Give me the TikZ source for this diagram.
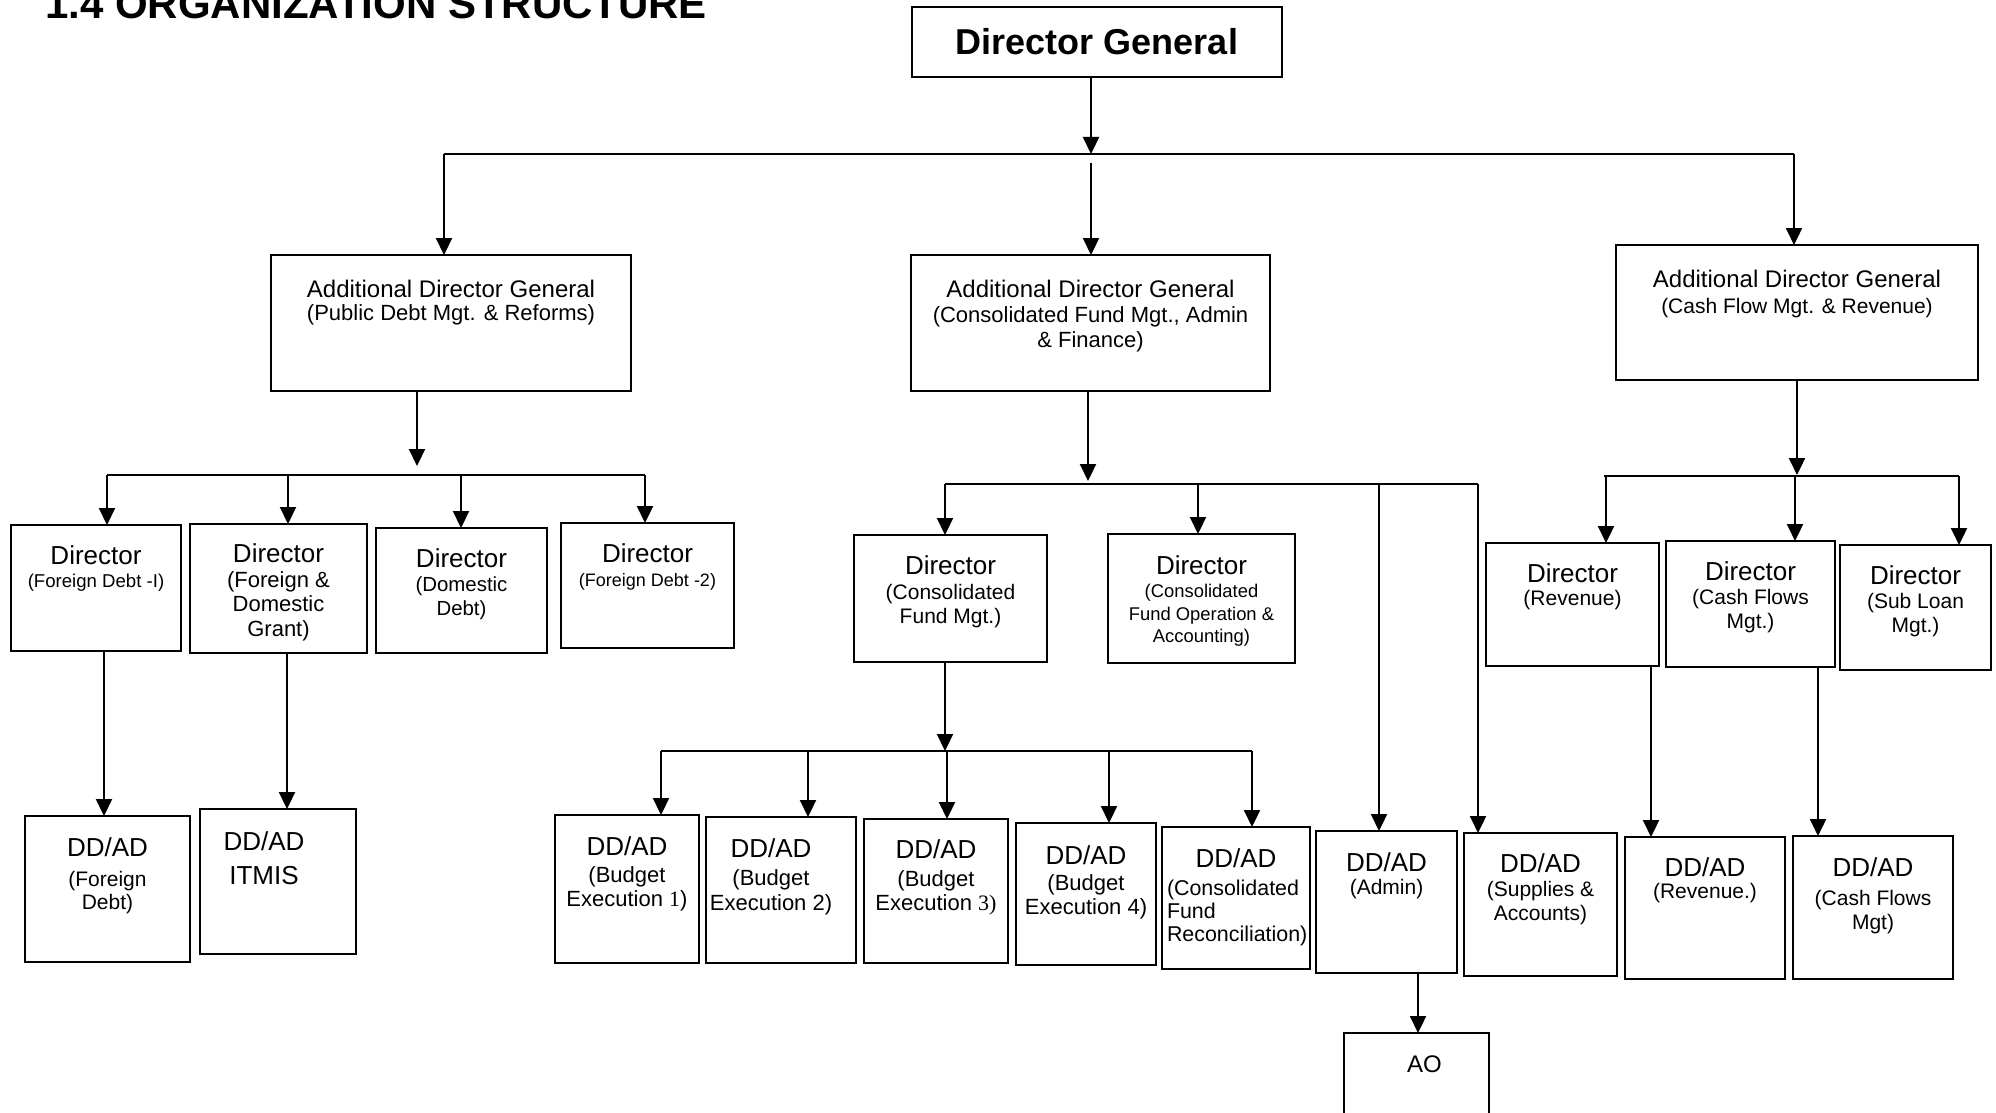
\documentclass[tikz,border=0pt]{standalone}
\usepackage{fontspec}
\setmainfont{Liberation Sans}
\newfontfamily\serifnum{Liberation Serif}
\usetikzlibrary{arrows.meta}

\newlength\pxu
\setlength\pxu{0.5pt}
\newcommand\fs[2]{\fontsize{#1}{#2}\selectfont}
% box contents: [rightskip]{width}{height}{top pad}{text}, all in px
\newcommand\cell[5][0]{\parbox[c][#3\pxu][t]{#2\pxu}{\centering\rightskip=#1\pxu plus 1fil\relax\vspace*{#4\pxu}#5}}
\newcommand\hd[2][0]{\fs{13}{15}#2\par\vspace{#1pt}}

\begin{document}
\begin{tikzpicture}[x=0.5pt, y=-0.5pt, line width=1.1pt,
  orgbox/.style={draw, line width=1pt, inner sep=0pt, outer sep=0pt},
  arr/.style={-{Triangle[width=8pt,length=8.5pt]}}]
\useasboundingbox (0,0) rectangle (1996,1113);

\node[anchor=base west, inner sep=0pt, font={\fs{21}{25}\bfseries}] (title) at (44,19) {1.4 ORGANIZATION STRUCTURE};

% top level
\node[orgbox] (dg) at (1097,42) {\cell{370}{70}{21}{\fs{18}{21}\bfseries Director General}};

% additional director generals
\node[orgbox] (adgA) at (451,323) {\cell{360}{136}{25}{\fs{12}{14}Additional Director General\par\fs{11}{11.5}(Public Debt Mgt. \& Reforms)}};
\node[orgbox] (adgB) at (1090.5,323) {\cell{359}{136}{25}{\fs{12}{14}Additional Director General\par\fs{11}{12.5}(Consolidated Fund Mgt., Admin\\ \& Finance)}};
\node[orgbox] (adgC) at (1797,312.5) {\cell{362}{135}{25}{\fs{12}{14}Additional Director General\par\fs{10.5}{13}(Cash Flow Mgt. \& Revenue)}};

% directors
\node[orgbox] (dFDa) at (96,588) {\cell{170}{126}{21}{\hd{Director}\fs{9.3}{11.5}(Foreign Debt -I)}};
\node[orgbox] (dFDG) at (278.5,588.5) {\cell{177}{129}{20}{\hd{Director}\fs{11}{12.2}(Foreign \&\\Domestic\\Grant)}};
\node[orgbox] (dDD) at (461.5,590.5) {\cell{171}{125}{21}{\hd{Director}\fs{10.2}{12}(Domestic\\Debt)}};
\node[orgbox] (dFDb) at (647.5,585.5) {\cell{173}{125}{21}{\hd{Director}\fs{9}{12}(Foreign Debt -2)}};
\node[orgbox] (dCFM) at (950.5,598.5) {\cell{193}{127}{21}{\hd{Director}\fs{10.5}{12.2}(Consolidated\\Fund Mgt.)}};
\node[orgbox] (dCFO) at (1201.5,598.5) {\cell{187}{129}{22}{\hd{Director}\fs{9.2}{11.3}(Consolidated\\Fund Operation \&\\Accounting)}};
\node[orgbox] (dRev) at (1572.5,604.5) {\cell{173}{123}{21}{\hd{Director}\fs{10.5}{11.5}(Revenue)}};
\node[orgbox] (dCF) at (1750.5,604) {\cell{169}{126}{21}{\hd{Director}\fs{10.5}{12}(Cash Flows\\Mgt.)}};
\node[orgbox] (dSL) at (1915.5,607.5) {\cell{151}{125}{21}{\hd{Director}\fs{10.5}{12}(Sub Loan\\Mgt.)}};

% deputy / assistant directors
\node[orgbox] (ddFD) at (107.5,889) {\cell{165}{146}{22}{\hd[3.5]{DD/AD}\fs{10.5}{11.5}(Foreign\\Debt)}};
\node[orgbox] (ddIT) at (278,881.5) {\cell[28]{156}{145}{23}{\hd{DD/AD}\fs{13}{17}ITMIS}};
\node[orgbox] (ddBEa) at (627,889) {\cell{144}{148}{22}{\hd[1.5]{DD/AD}\fs{11}{12}(Budget\\Execution {\serifnum 1})}};
\node[orgbox] (ddBEb) at (781,890) {\cell[20]{150}{146}{22}{\hd[1.5]{DD/AD}\fs{11}{12.3}(Budget\\Execution 2)}};
\node[orgbox] (ddBEc) at (936,891) {\cell{144}{144}{21}{\hd[2]{DD/AD}\fs{11}{12}(Budget\\Execution {\serifnum 3)}}};
\node[orgbox] (ddBEd) at (1086,894) {\cell{140}{142}{23}{\hd[1]{DD/AD}\fs{11}{12}(Budget\\Execution 4)}};
\node[orgbox] (ddCFR) at (1236,898) {\cell{148}{142}{22}{\hd[2.5]{DD/AD}\raggedright\leftskip=5\pxu\fs{10.7}{11.5}(Consolidated\\Fund\\Reconciliation)}};
\node[orgbox] (ddAdm) at (1386.5,902) {\cell{141}{142}{22}{\hd{DD/AD}\fs{10.5}{11.5}(Admin)}};
\node[orgbox] (ddSup) at (1540.5,904.5) {\cell{153}{143}{21}{\hd{DD/AD}\fs{10.5}{12}(Supplies \&\\Accounts)}};
\node[orgbox] (ddRev) at (1705,908) {\cell{160}{142}{21}{\hd{DD/AD}\fs{10.5}{11}(Revenue.)}};
\node[orgbox] (ddCF) at (1873,907.5) {\cell{160}{143}{22}{\hd[2.5]{DD/AD}\fs{10.5}{12}(Cash Flows\\Mgt)}};
\node[orgbox] (ao) at (1416.5,1079) {\cell[-16]{145}{92}{23}{\fs{12}{14}AO}};

% DG to the three ADGs
\coordinate (top) at (1091,154);
\coordinate (topM) at (1091,163);
\coordinate (topL) at (444,154);
\coordinate (topR) at (1794,154);
\draw[arr] (dg.south -| top) -- (top);
\draw (topL) -- (topR);
\draw[arr] (topL) -- (adgA.north -| topL);
\draw[arr] (topM) -- (adgB.north -| topM);
\draw[arr] (topR) -- (adgC.north -| topR);

% public debt wing
\coordinate (pdA) at (417,466);
\coordinate (pdL) at (107,475);
\coordinate (pdR) at (645,475);
\draw[arr] (adgA.south -| pdA) -- (pdA);
\draw (pdL) -- (pdR);
\foreach \x/\n in {107/dFDa, 288/dFDG, 461/dDD, 645/dFDb}
  \draw[arr] (pdL -| \x,0) -- (\n.north -| \x,0);

% consolidated fund wing
\coordinate (cfA) at (1088,481);
\coordinate (cfL) at (945,484);
\coordinate (cfR) at (1478,484);
\draw[arr] (adgB.south -| cfA) -- (cfA);
\draw (cfL) -- (cfR);
\foreach \x/\n in {945/dCFM, 1198/dCFO, 1379/ddAdm, 1478/ddSup}
  \draw[arr] (cfL -| \x,0) -- (\n.north -| \x,0);

% cash flow wing
\coordinate (cwA) at (1797,475);
\coordinate (cwL) at (1604,476);
\coordinate (cwR) at (1959,476);
\draw[arr] (adgC.south -| cwA) -- (cwA);
\draw (cwL) -- (cwR);
\foreach \x/\n in {1606/dRev, 1795/dCF, 1959/dSL}
  \draw[arr] (cwL -| \x,0) -- (\n.north -| \x,0);

% budget execution row
\coordinate (beL) at (661,751);
\coordinate (beR) at (1252,751);
\draw[arr] (dCFM.south -| 945,0) -- (beL -| 945,0);
\draw (beL) -- (beR);
\foreach \x/\n in {661/ddBEa, 808/ddBEb, 947/ddBEc, 1109/ddBEd, 1252/ddCFR}
  \draw[arr] (beL -| \x,0) -- (\n.north -| \x,0);

% single links
\foreach \x/\a/\b in {104/dFDa/ddFD, 287/dFDG/ddIT, 1651/dRev/ddRev, 1818/dCF/ddCF, 1418/ddAdm/ao}
  \draw[arr] (\a.south -| \x,0) -- (\b.north -| \x,0);
\end{tikzpicture}
\end{document}
